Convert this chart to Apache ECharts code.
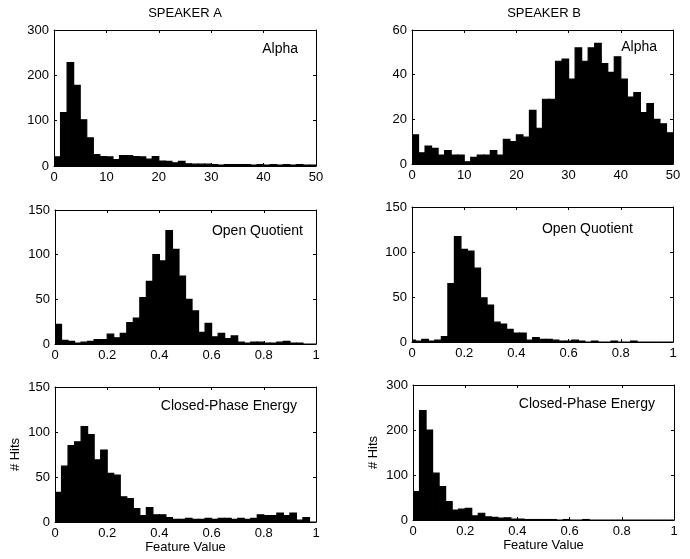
<!DOCTYPE html>
<html>
<head>
<meta charset="utf-8">
<script src="https://cdn.jsdelivr.net/npm/echarts@6/dist/echarts.min.js"></script>
<style>
html,body{margin:0;padding:0;background:#fff;}
#chart{width:690px;height:559px;}
</style>
</head>
<body>
<div id="chart"></div>
<script>
// ---- Data (histogram counts) ----
// Speaker A, Alpha: 40 bins over 0..50
const alphaA = [20,118,228,178,102,62,25,21,20,14,23,23,21,20,15,21,11,10,7,10,5,4,4,4,3,2,3,3,3,3,2,3,2,3,2,3,2,3,2,2];
const alphaABinStart = 0, alphaABinWidth = 1.25;
// Speaker B, Alpha: 40 bins over 0..50
const alphaB = [13,5,8,7,4,6,4,4,1,3,4,4,6,4,11,10,13,12,24,16,29,29,46,47,38,52,46,52,54,45,41,48,38,30,32,23,27,20,18,14];
const alphaBBinStart = 0, alphaBBinWidth = 1.25;
// Speaker A, Open Quotient: 40 bins over 0..1
const oqA = [22,4,3,1,2,3,5,5,11,7,12,24,29,52,70,100,93,127,106,76,50,37,13,23,8,12,6,9,2,1,2,2,1,1,2,3,1,1,0,0];
const oqABinStart = 0, oqABinWidth = 0.025;
// Speaker B, Open Quotient: bins centred on multiples of 0.025
const oqB = [2,1,3,1,2,6,65,117,103,101,82,49,41,22,20,14,10,10,2,5,3,3,2,1,1,2,1,0,1,0,0,1,0,0,1,0,0,0,0,0,0];
const oqBBinStart = -0.0125, oqBBinWidth = 0.025;
// Speaker A, Closed-Phase Energy: 40 bins over 0..1
const cpeA = [33,62,85,89,106,97,69,80,54,52,28,26,15,7,16,8,8,5,3,3,4,3,3,4,3,4,4,3,4,3,4,8,7,7,10,7,10,2,5,0];
const cpeABinStart = 0, cpeABinWidth = 0.025;
// Speaker B, Closed-Phase Energy: 40 bins over 0..1
const cpeB = [63,243,200,104,74,41,22,24,26,9,15,7,6,4,5,2,2,1,1,1,1,1,0,1,0,0,1,0,0,0,0,0,0,0,0,0,0,0,0,0];
const cpeBBinStart = 0, cpeBBinWidth = 0.025;

const columnTitles = ['SPEAKER A', 'SPEAKER B'];
const panelLabels = ['Alpha', 'Alpha', 'Open Quotient', 'Open Quotient', 'Closed-Phase Energy', 'Closed-Phase Energy'];
const xAxisName = 'Feature Value';
const yAxisName = '# Hits';

// ---- Layout ----
const FONT = '"Liberation Sans", Arial, Helvetica, sans-serif';
const panels = [
  {counts: alphaA, start: alphaABinStart, width: alphaABinWidth, xMax: 50, xInt: 10, yMax: 300, yInt: 100,
   grid: {left: 54, top: 30, width: 262, height: 136}, label: [298, 49]},
  {counts: alphaB, start: alphaBBinStart, width: alphaBBinWidth, xMax: 50, xInt: 10, yMax: 60, yInt: 20,
   grid: {left: 412, top: 30, width: 261, height: 134}, label: [657, 47]},
  {counts: oqA, start: oqABinStart, width: oqABinWidth, xMax: 1, xInt: 0.2, yMax: 150, yInt: 50,
   grid: {left: 55, top: 210, width: 261, height: 134}, label: [303, 231]},
  {counts: oqB, start: oqBBinStart, width: oqBBinWidth, xMax: 1, xInt: 0.2, yMax: 150, yInt: 50,
   grid: {left: 412, top: 207, width: 261, height: 135}, label: [633, 229]},
  {counts: cpeA, start: cpeABinStart, width: cpeABinWidth, xMax: 1, xInt: 0.2, yMax: 150, yInt: 50,
   grid: {left: 55, top: 387, width: 261, height: 135}, label: [297, 406], names: true},
  {counts: cpeB, start: cpeBBinStart, width: cpeBBinWidth, xMax: 1, xInt: 0.2, yMax: 300, yInt: 100,
   grid: {left: 413, top: 385, width: 261, height: 135}, label: [655, 404], names: true}
];

function renderBar(params, api) {
  const x0 = api.value(0), x1 = api.value(1), y = api.value(2);
  const p0 = api.coord([x0, 0]);
  const p1 = api.coord([x1, y]);
  return {
    type: 'rect',
    shape: {x: p0[0], y: p1[1], width: p1[0] - p0[0], height: p0[1] - p1[1]},
    style: {fill: '#000', stroke: '#000', lineWidth: 1.2}
  };
}

const grid = [], xAxis = [], yAxis = [], series = [], graphic = [];
const lineStyle = {color: '#000', width: 1};
const labelStyle = {color: '#000', fontFamily: FONT, fontSize: 13};

panels.forEach((p, i) => {
  grid.push(Object.assign({containLabel: false}, p.grid));
  const xBase = {gridIndex: i, type: 'value', min: 0, max: p.xMax, interval: p.xInt,
    axisLine: {show: true, onZero: false, lineStyle}, splitLine: {show: false},
    axisTick: {show: true, inside: true, length: 3, lineStyle}};
  const yBase = {gridIndex: i, type: 'value', min: 0, max: p.yMax, interval: p.yInt,
    axisLine: {show: true, onZero: false, lineStyle}, splitLine: {show: false},
    axisTick: {show: true, inside: true, length: 3, lineStyle}};
  const xb = Object.assign({}, xBase, {position: 'bottom',
    axisLabel: Object.assign({margin: 5}, labelStyle)});
  if (p.names) {
    Object.assign(xb, {name: xAxisName, nameLocation: 'middle', nameGap: 19,
      nameTextStyle: {color: '#000', fontFamily: FONT, fontSize: 13}});
  }
  xAxis.push(xb);
  const yl = Object.assign({}, yBase, {position: 'left',
    axisLabel: Object.assign({margin: 5}, labelStyle)});
  if (p.names) {
    Object.assign(yl, {name: yAxisName, nameLocation: 'middle', nameGap: 33, nameRotate: 90,
      nameTextStyle: {color: '#000', fontFamily: FONT, fontSize: 13}});
  }
  yAxis.push(yl);
  const data = p.counts.map((c, k) => [p.start + k * p.width, p.start + (k + 1) * p.width, c]);
  series.push({type: 'custom', xAxisIndex: i, yAxisIndex: i, renderItem: renderBar,
    clip: true, silent: true, animation: false, data,
    encode: {x: [0, 1], y: 2}});
  graphic.push({type: 'text', x: p.label[0], y: p.label[1],
    style: {text: panelLabels[i], fill: '#000', font: '14px ' + FONT, align: 'right', verticalAlign: 'middle'}});
});
// mirrored top/right axes (box with inward ticks)
panels.forEach((p, i) => {
  xAxis.push({gridIndex: i, type: 'value', position: 'top', min: 0, max: p.xMax, interval: p.xInt,
    axisLine: {show: true, onZero: false, lineStyle}, splitLine: {show: false},
    axisTick: {show: true, inside: true, length: 3, lineStyle}, axisLabel: {show: false}});
  yAxis.push({gridIndex: i, type: 'value', position: 'right', min: 0, max: p.yMax, interval: p.yInt,
    axisLine: {show: true, onZero: false, lineStyle}, splitLine: {show: false},
    axisTick: {show: true, inside: true, length: 3, lineStyle}, axisLabel: {show: false}});
});

graphic.push({type: 'text', x: 185, y: 13,
  style: {text: columnTitles[0], fill: '#000', font: '13px ' + FONT, align: 'center', verticalAlign: 'middle'}});
graphic.push({type: 'text', x: 544, y: 13,
  style: {text: columnTitles[1], fill: '#000', font: '13px ' + FONT, align: 'center', verticalAlign: 'middle'}});

const chart = echarts.init(document.getElementById('chart'), null, {renderer: 'canvas'});
chart.setOption({
  animation: false,
  backgroundColor: '#fff',
  grid, xAxis, yAxis, series, graphic
});
</script>
</body>
</html>
